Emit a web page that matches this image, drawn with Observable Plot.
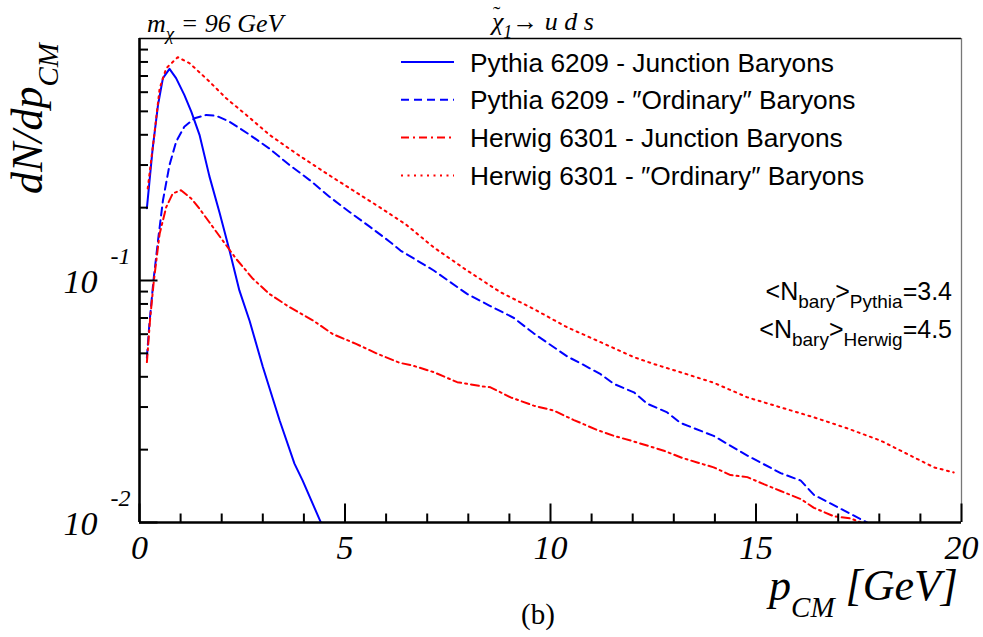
<!DOCTYPE html>
<html>
<head>
<meta charset="utf-8">
<script src="https://cdn.jsdelivr.net/npm/d3@7"></script>
<script src="https://cdn.jsdelivr.net/npm/@observablehq/plot@0.6"></script>
<style>
  html, body { margin: 0; padding: 0; background: #fff; }
  svg text { white-space: pre; }
</style>
</head>
<body>
<div id="chart"></div>
<script>
// ---- data (p_CM in GeV, dN/dp_CM) ----
const pythiaJunction = [[0.18,0.199],[0.32,0.351],[0.45,0.531],[0.57,0.686],[0.73,0.749],[0.89,0.686],[1.09,0.585],[1.26,0.499],[1.46,0.40],[1.70,0.27],[1.95,0.19],[2.19,0.133],[2.43,0.091],[2.68,0.068],[3.0,0.044],[3.41,0.0264],[3.77,0.0175],[3.97,0.0149],[4.38,0.0103],[4.45,0.0097]];
const pythiaOrdinary = [[0.18,0.048],[0.24,0.066],[0.34,0.1],[0.45,0.146],[0.57,0.214],[0.73,0.30],[0.89,0.374],[1.09,0.432],[1.34,0.468],[1.62,0.483],[1.87,0.479],[2.19,0.453],[2.68,0.40],[3.16,0.351],[3.65,0.30],[4.14,0.26],[4.62,0.222],[5.11,0.192],[5.6,0.167],[6.08,0.145],[6.35,0.133],[7.16,0.11],[7.97,0.088],[8.5,0.079],[9.11,0.07],[9.59,0.0605],[10.41,0.0485],[10.73,0.0455],[11.22,0.041],[11.54,0.0374],[12.03,0.0345],[12.35,0.031],[12.84,0.0285],[13.16,0.0258],[13.97,0.0228],[14.79,0.0189],[15.6,0.016],[16.09,0.0149],[16.41,0.013],[17.06,0.0114],[17.7,0.01],[17.8,0.0098]];
const herwigJunction = [[0.18,0.046],[0.26,0.07],[0.35,0.1],[0.49,0.156],[0.65,0.201],[0.81,0.229],[1.01,0.236],[1.26,0.218],[1.46,0.198],[1.70,0.174],[1.99,0.149],[2.35,0.123],[2.76,0.1016],[3.16,0.088],[3.65,0.0776],[4.22,0.0684],[4.70,0.0601],[5.27,0.0547],[5.80,0.0497],[6.33,0.0457],[6.65,0.0445],[7.16,0.0418],[7.73,0.038],[8.3,0.0366],[8.54,0.0362],[9.03,0.0329],[9.59,0.0304],[10.08,0.029],[10.57,0.0265],[11.14,0.0241],[11.54,0.0228],[11.95,0.0218],[12.35,0.0208],[12.76,0.0198],[13.2,0.0185],[13.57,0.0177],[13.97,0.0169],[14.38,0.0157],[14.79,0.0154],[15.19,0.0144],[15.6,0.0135],[16.09,0.0125],[16.41,0.0115],[16.9,0.0106],[17.3,0.0104],[17.55,0.01],[17.6,0.0098]];
const herwigOrdinary = [[0.2,0.24],[0.28,0.31],[0.36,0.40],[0.49,0.622],[0.65,0.753],[0.93,0.837],[1.22,0.79],[1.66,0.674],[2.11,0.566],[2.6,0.483],[3.16,0.40],[3.81,0.335],[4.62,0.272],[5.19,0.236],[5.84,0.201],[6.49,0.17],[7.16,0.137],[7.97,0.11],[8.78,0.0895],[9.59,0.0763],[10.41,0.064],[11.22,0.0556],[12.03,0.0482],[12.51,0.0452],[13.16,0.0418],[13.97,0.0378],[14.79,0.0329],[15.6,0.0299],[16.41,0.0272],[17.22,0.0245],[18.03,0.0218],[18.84,0.0186],[19.33,0.0169],[19.81,0.0161]];

const xMajorTicks = [0, 5, 10, 15, 20];
const xMinorTicks = [1,2,3,4,6,7,8,9,11,12,13,14,16,17,18,19];
const yMajorTicks = [0.01, 0.1];
const yMinorTicks = [0.02,0.03,0.04,0.05,0.06,0.07,0.08,0.09,0.2,0.3,0.4,0.5,0.6,0.7,0.8,0.9];
const legendLabels = ["Pythia 6209 - Junction Baryons", "Pythia 6209 - \u2033Ordinary\u2033 Baryons", "Herwig 6301 - Junction Baryons", "Herwig 6301 - \u2033Ordinary\u2033 Baryons"];
const nbaryValues = [["Pythia", "3.4"], ["Herwig", "4.5"]];

// ---- styles ----
const BLUE = "#0000ff", RED = "#ff0000";
const seriesStyle = [
  {data: pythiaJunction, stroke: BLUE, dash: null},
  {data: pythiaOrdinary, stroke: BLUE, dash: "8,5"},
  {data: herwigJunction, stroke: RED, dash: "8,4,2,4"},
  {data: herwigOrdinary, stroke: RED, dash: "2,4.5"}
];
const SERIF = "Liberation Serif, Times New Roman, serif";
const SANS = "Liberation Sans, Arial, Helvetica, sans-serif";

const W = 983, H = 637, mL = 139, mR = 22, mT = 38, mB = 115;
const fw = W - mL - mR, fh = H - mT - mB;

const plot = Plot.plot({
  width: W, height: H,
  marginLeft: mL, marginRight: mR, marginTop: mT, marginBottom: mB,
  style: {background: "#fff", overflow: "visible"},
  x: {domain: [0, 20], axis: null},
  y: {type: "log", domain: [0.01, 1], axis: null},
  marks: [
    // frame
    Plot.ruleY([1], {stroke: "#000", strokeWidth: 1.3}),
    Plot.ruleX([20], {stroke: "#777", strokeWidth: 1.3}),
    // curves
    ...seriesStyle.map(s => Plot.line(s.data, {
      x: d => d[0], y: d => d[1], stroke: s.stroke, strokeWidth: 2,
      strokeDasharray: s.dash, clip: true
    })),
    // ticks (inward, ROOT style)
    Plot.tickX(xMajorTicks, {x: d => d, insetTop: fh - 18.5, stroke: "#000", strokeWidth: 2}),
    Plot.tickX(xMinorTicks, {x: d => d, insetTop: fh - 8.5, stroke: "#000", strokeWidth: 2}),
    Plot.tickY(yMajorTicks, {y: d => d, insetRight: fw - 18.5, stroke: "#000", strokeWidth: 2}),
    Plot.tickY(yMinorTicks, {y: d => d, insetRight: fw - 9, stroke: "#000", strokeWidth: 2}),
    // axes lines
    Plot.ruleX([0], {stroke: "#000", strokeWidth: 2.6}),
    Plot.ruleY([0.01], {stroke: "#000", strokeWidth: 2.6}),
    // tick labels
    Plot.text(xMajorTicks, {x: d => d, text: d => String(d), frameAnchor: "bottom", lineAnchor: "bottom",
      dy: 36, fontSize: 34, fontFamily: SERIF, fontStyle: "italic", fill: "#000"}),
    Plot.text(yMajorTicks, {y: d => d, text: () => "10", frameAnchor: "left", textAnchor: "end", lineAnchor: "bottom",
      dx: -42, dy: 12, fontSize: 34, fontFamily: SERIF, fontStyle: "italic", fill: "#000"}),
    Plot.text(yMajorTicks, {y: d => d, text: d => String(Math.round(Math.log10(d))), frameAnchor: "left", textAnchor: "end", lineAnchor: "bottom",
      dx: -9, dy: -17, fontSize: 24, fontFamily: SERIF, fontStyle: "italic", fill: "#000"})
  ]
});

document.getElementById("chart").appendChild(plot);
const svg = d3.select(plot);

function rich(x, y, parts, opts = {}) {
  const t = svg.append("text")
    .attr("x", x).attr("y", y)
    .attr("text-anchor", opts.anchor || "start")
    .attr("font-family", opts.family || SERIF)
    .attr("font-style", opts.style || "normal")
    .attr("fill", "#000");
  if (opts.transform) t.attr("transform", opts.transform).attr("x", 0).attr("y", 0);
  for (const p of parts) {
    const s = t.append("tspan").text(p.t).attr("font-size", p.size);
    if (p.dy) s.attr("dy", p.dy);
    if (p.dx) s.attr("dx", p.dx);
    if (p.style) s.attr("font-style", p.style);
  }
  return t;
}

// Y axis title
rich(0, 0, [
  {t: "dN/dp", size: 44},
  {t: "CM", size: 29, dy: 16}
], {anchor: "end", style: "italic", transform: "translate(42,43) rotate(-90)"});

// X axis title
rich(958, 600, [
  {t: "p", size: 44},
  {t: "CM", size: 29, dy: 17},
  {t: " [GeV]", size: 44, dy: -17}
], {anchor: "end", style: "italic"});

// top labels
rich(147, 32, [
  {t: "m", size: 26},
  {t: "\u03C7", size: 19, dy: 8},
  {t: " = 96 GeV", size: 26, dy: -8}
], {style: "italic"});

rich(492, 30, [
  {t: "\u03C7", size: 26},
  {t: "\u02DC", size: 22, dx: -10.5, dy: -9, style: "normal"},
  {t: "1", size: 18, dx: 3, dy: 17},
  {t: "\u2192 u d s", size: 26, dy: -8}
], {style: "italic"});

// (b)
svg.append("text").attr("x", 538).attr("y", 624).attr("text-anchor", "middle")
  .attr("font-family", SERIF).attr("font-size", 29).attr("fill", "#000").text("(b)");

// legend
legendLabels.forEach((lab, i) => {
  const yb = 71.5 + i * 37.8;
  const s = seriesStyle[i];
  svg.append("line").attr("x1", 401).attr("x2", 454).attr("y1", yb - 9.5).attr("y2", yb - 9.5)
    .attr("stroke", s.stroke).attr("stroke-width", 2).attr("stroke-dasharray", s.dash);
  svg.append("text").attr("x", 470).attr("y", yb).attr("text-anchor", "start")
    .attr("font-family", SANS).attr("font-size", 26.3)
    .attr("fill", "#000").text(lab);
});

// <N_bary> annotations
nbaryValues.forEach(([gen, val], i) => {
  rich(952, 300 + i * 38, [
    {t: "<N", size: 25},
    {t: "bary", size: 19, dy: 8},
    {t: ">", size: 25, dy: -8},
    {t: gen, size: 19, dy: 8},
    {t: "=" + val, size: 25, dy: -8}
  ], {anchor: "end", family: SANS});
});
</script>
</body>
</html>
